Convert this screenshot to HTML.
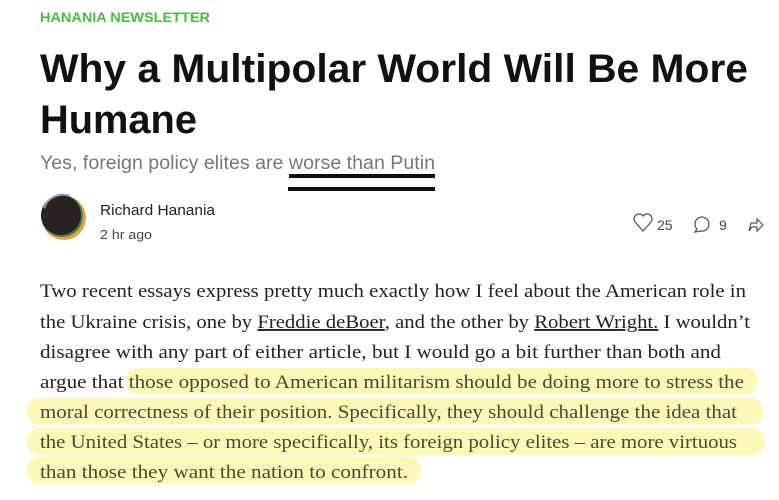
<!DOCTYPE html>
<html><head><meta charset="utf-8"><style>
html,body{margin:0;padding:0;background:#fff;width:779px;height:500px;overflow:hidden}
svg{display:block}
.serif{font-family:"Liberation Serif",serif;font-size:19px;fill:#222}
</style></head><body>
<svg width="779" height="500" viewBox="0 0 779 500">
<text x="40" y="22" font-family="Liberation Sans,sans-serif" font-weight="bold" font-size="14" fill="#4cb944" textLength="170" lengthAdjust="spacingAndGlyphs">HANANIA NEWSLETTER</text>
<text x="40" y="82" font-family="Liberation Sans,sans-serif" font-weight="bold" font-size="40" fill="#111" textLength="708" lengthAdjust="spacingAndGlyphs">Why a Multipolar World Will Be More</text>
<text x="40" y="133" font-family="Liberation Sans,sans-serif" font-weight="bold" font-size="40" fill="#111" textLength="157" lengthAdjust="spacingAndGlyphs">Humane</text>
<text x="40" y="169" font-family="Liberation Sans,sans-serif" font-size="19" fill="#777" textLength="395" lengthAdjust="spacingAndGlyphs">Yes, foreign policy elites are worse than Putin</text>
<rect x="289" y="174" width="146" height="4" fill="#111"/>
<rect x="288" y="187" width="147" height="4" fill="#111"/>
<g>
<circle cx="64" cy="218" r="22" fill="#e8a23a"/>
<circle cx="62" cy="216" r="21" fill="#3a7a5a"/>
<circle cx="61" cy="215" r="20" fill="#2a221e"/>
<path d="M44 208 A20 20 0 0 1 70 196" stroke="#8fa0c8" stroke-width="2" fill="none"/>
</g>
<text x="100" y="215" font-family="Liberation Sans,sans-serif" font-size="15" fill="#222" textLength="115" lengthAdjust="spacingAndGlyphs">Richard Hanania</text>
<text x="100" y="239" font-family="Liberation Sans,sans-serif" font-size="13" fill="#444" textLength="52" lengthAdjust="spacingAndGlyphs">2 hr ago</text>
<path d="M643 231 L635 222 A4.5 4.5 0 0 1 643 216 A4.5 4.5 0 0 1 651 222 Z" fill="none" stroke="#555" stroke-width="1.3"/>
<text x="657" y="230" font-family="Liberation Sans,sans-serif" font-size="14" fill="#444">25</text>
<path d="M697 229 A7 7 0 1 1 701 231 L695 232 Z" fill="none" stroke="#555" stroke-width="1.3"/>
<text x="719" y="230" font-family="Liberation Sans,sans-serif" font-size="14" fill="#444">9</text>
<path d="M749 231 L751 223 L757 223 L757 219 L763 225 L757 231 L757 227 L752 227 Z" fill="none" stroke="#555" stroke-width="1.2"/>
<g fill="#fbf8b8">
<rect x="126" y="368" width="632" height="26" rx="12"/>
<rect x="27" y="398" width="736" height="27" rx="12"/>
<rect x="27" y="428" width="738" height="27" rx="12"/>
<rect x="27" y="457" width="394" height="27" rx="12"/>
</g>
<g class="serif">
<text x="40" y="297" textLength="706" lengthAdjust="spacingAndGlyphs">Two recent essays express pretty much exactly how I feel about the American role in</text>
<text x="40" y="328" textLength="710" lengthAdjust="spacingAndGlyphs">the Ukraine crisis, one by <tspan text-decoration="underline">Freddie deBoer</tspan>, and the other by <tspan text-decoration="underline">Robert Wright.</tspan> I wouldn’t</text>
<text x="40" y="358" textLength="681" lengthAdjust="spacingAndGlyphs">disagree with any part of either article, but I would go a bit further than both and</text>
<text x="40" y="388" textLength="704" lengthAdjust="spacingAndGlyphs">argue that <tspan fill="#4a4a30">those opposed to American militarism should be doing more to stress the</tspan></text>
<text x="40" y="418" textLength="697" lengthAdjust="spacingAndGlyphs" fill="#4a4a30">moral correctness of their position. Specifically, they should challenge the idea that</text>
<text x="40" y="448" textLength="697" lengthAdjust="spacingAndGlyphs" fill="#4a4a30">the United States – or more specifically, its foreign policy elites – are more virtuous</text>
<text x="40" y="478" textLength="368" lengthAdjust="spacingAndGlyphs" fill="#4a4a30">than those they want the nation to confront.</text>
</g>
</svg>
</body></html>
